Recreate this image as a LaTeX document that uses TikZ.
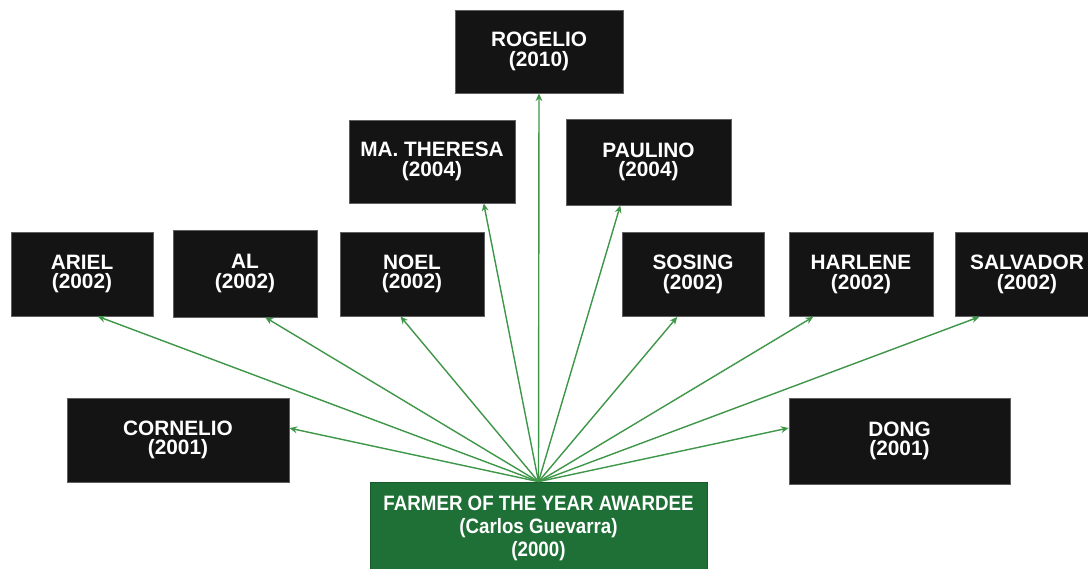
\documentclass[tikz,border=0pt]{standalone}
\usepackage{fontspec}
\setmainfont{Liberation Sans}
\newfontfamily\narrowsans[FakeStretch=0.9]{Liberation Sans}
\usetikzlibrary{arrows.meta,calc}

\definecolor{boxblack}{RGB}{20,20,20}
\definecolor{boxedge}{RGB}{95,95,95}
\definecolor{awardgreen}{RGB}{30,112,54}
\definecolor{linkgreen}{RGB}{62,150,72}

\begin{document}
\begin{tikzpicture}[x=0.025cm,y=-0.025cm,
  person/.style={fill=boxblack, draw=boxedge, line width=0.5pt, text=white,
    font=\bfseries\fontsize{14.8}{13.8}\selectfont, align=center, inner sep=0pt,
    minimum width=3.6cm, minimum height=2.1cm},
  award/.style={fill=awardgreen, draw=awardgreen!80!black, line width=0.5pt, text=white,
    font=\narrowsans\bfseries\fontsize{14.8}{16.3}\selectfont, align=center, inner sep=0pt,
    minimum width=8.425cm, minimum height=2.325cm},
  link/.style={draw=linkgreen, line width=1pt, -{Stealth[length=5.5pt,width=4.8pt]}}]

\useasboundingbox (0,0) rectangle (1088,568);
\clip (0,0) rectangle (1088,568);

% top tiers
\node[person, minimum width=4.2cm, minimum height=2.075cm] (rogelio) at (539,51.5) {ROGELIO\\(2010)};
\node[person, minimum width=4.15cm, minimum height=2.075cm] (theresa) at (432,161.5) {MA. THERESA\\(2004)};
\node[person, minimum width=4.125cm, minimum height=2.15cm] (paulino) at (648.5,162) {PAULINO\\(2004)};

% 2002 row
\node[person, minimum width=3.55cm] (ariel) at (82,274) {ARIEL\\(2002)};
\node[person, minimum height=2.175cm] (al) at (245,273.5) {AL\\(2002)};
\node[person] (noel) at (412,274) {NOEL\\(2002)};
\node[person, minimum width=3.55cm] (sosing) at (693,274.5) {SOSING\\(2002)};
\node[person] (harlene) at (861,274.5) {HARLENE\\(2002)};
\node[person] (salvador) at (1027,274.5) {SALVADOR\\(2002)};

% 2001 row
\node[person, minimum width=5.55cm] (cornelio) at (178,440) {CORNELIO\\(2001)};
\node[person, minimum width=5.525cm, minimum height=2.15cm] (dong) at (899.5,441) {DONG\\(2001)};

% root
\node[award] (root) at (538.5,528.5) {FARMER OF THE YEAR AWARDEE\\(Carlos Guevarra)\\(2000)};

% connectors
\draw[link] (root.north) -- (rogelio.south);
\draw[link] (root.north) -- ($(theresa.south west)!0.81!(theresa.south east)$);
\draw[link] (root.north) -- ($(paulino.south west)!0.33!(paulino.south east)$);
\draw[link] (root.north) -- ($(ariel.south west)!0.61!(ariel.south east)$);
\draw[link] (root.north) -- ($(al.south west)!0.64!(al.south east)$);
\draw[link] (root.north) -- ($(noel.south west)!0.42!(noel.south east)$);
\draw[link] (root.north) -- ($(sosing.south west)!0.39!(sosing.south east)$);
\draw[link] (root.north) -- ($(harlene.south west)!0.17!(harlene.south east)$);
\draw[link] (root.north) -- ($(salvador.south west)!0.17!(salvador.south east)$);
\draw[link] (root.north) -- ($(cornelio.north east)!0.36!(cornelio.south east)$);
\draw[link] (root.north) -- ($(dong.north west)!0.35!(dong.south west)$);

\end{tikzpicture}
\end{document}
